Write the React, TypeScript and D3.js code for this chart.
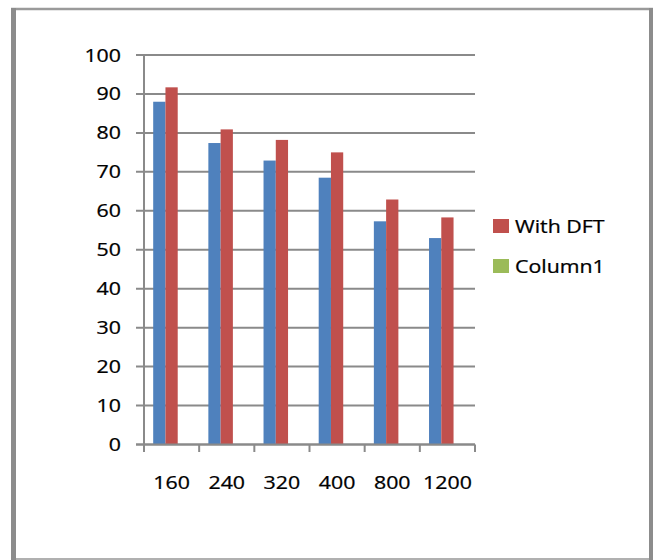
import React from "react";
import * as d3 from "d3";

const categories = ["160", "240", "320", "400", "800", "1200"];
const seriesNames = ["Series1", "With DFT", "Column1"];
const series1 = [88.0, 77.4, 72.9, 68.5, 57.3, 53.0];
const withDFT = [91.7, 80.9, 78.2, 75.0, 62.9, 58.3];
const column1: (number | null)[] = [null, null, null, null, null, null];
const yTicks = [0, 10, 20, 30, 40, 50, 60, 70, 80, 90, 100];
const colors = ["#4F81BD", "#C0504D", "#9BBB59"];

const W = 654;
const H = 560;
const plot = { left: 144, right: 475, top: 55, bottom: 444.5 };
const SX = 1.22;
const FS = 17.5;
const FONT = "'Open Sans', 'Noto Sans', sans-serif";

export default function App() {
  const y = d3.scaleLinear().domain([0, 100]).range([plot.bottom, plot.top]);
  const x = d3.scaleBand().domain(categories).range([plot.left, plot.right]).paddingInner(0).paddingOuter(0);
  const bw = x.bandwidth();
  const barW = bw / 4.5;
  const inner = d3.scaleBand().domain(seriesNames).range([0.75 * barW, 3.75 * barW]);

  const data = [series1, withDFT, column1];
  const gridColor = "#8a8a8a";
  const textColor = "#000";
  const textStyle = { stroke: "#000", strokeWidth: 0.25 };

  const tickXs = d3.range(categories.length + 1).map((i) => plot.left + i * bw);

  return (
    <svg width={W} height={H} style={{ position: "absolute", left: 0, top: 0, background: "#fff" }}>
      <rect x={0} y={0} width={W} height={H} fill="#fff" />
      {/* frame */}
      <line x1={11} x2={653} y1={9} y2={9} stroke="#9a9a9a" strokeWidth={2.5} />
      <line x1={11} x2={653} y1={559} y2={559} stroke="#b0b0b0" strokeWidth={2} />
      <line x1={13.5} x2={13.5} y1={8} y2={560} stroke="#8c8c8c" strokeWidth={5} />
      <line x1={651} x2={651} y1={8} y2={560} stroke="#8c8c8c" strokeWidth={4} />

      {/* gridlines + y ticks */}
      {yTicks.map((t) => (
        <g key={t}>
          <line x1={136} x2={plot.right} y1={y(t)} y2={y(t)} stroke={gridColor} strokeWidth={2} />
          <text
            transform={`translate(121,${y(t) + 6.5}) scale(${SX},1)`}
            textAnchor="end"
            fontFamily={FONT}
            fontSize={FS}
            fill={textColor}
            style={textStyle}
          >
            {t}
          </text>
        </g>
      ))}

      {/* bars */}
      {data.map((vals, si) =>
        vals.map((v, ci) =>
          v == null ? null : (
            <rect
              key={`${si}-${ci}`}
              x={(x(categories[ci]) as number) + (inner(seriesNames[si]) as number)}
              y={y(v)}
              width={inner.bandwidth()}
              height={y(0) - y(v)}
              fill={colors[si]}
            />
          )
        )
      )}

      {/* axes */}
      <line x1={plot.left} x2={plot.left} y1={plot.top} y2={plot.bottom} stroke={gridColor} strokeWidth={2} />
      <line x1={136} x2={plot.right} y1={plot.bottom} y2={plot.bottom} stroke={gridColor} strokeWidth={2} />
      {tickXs.map((tx, i) => (
        <line key={i} x1={tx} x2={tx} y1={plot.bottom} y2={452} stroke={gridColor} strokeWidth={2} />
      ))}
      {categories.map((c) => (
        <text
          key={c}
          transform={`translate(${(x(c) as number) + bw / 2},${489}) scale(${SX},1)`}
          textAnchor="middle"
          fontFamily={FONT}
          fontSize={FS}
          fill={textColor}
          style={textStyle}
        >
          {c}
        </text>
      ))}

      {/* legend */}
      {seriesNames.slice(1).map((name, i) => (
        <g key={name}>
          <rect x={493} y={219 + i * 40} width={16} height={14} fill={colors[i + 1]} />
          <text
            transform={`translate(515,${233 + i * 40}) scale(${SX},1)`}
            fontFamily={FONT}
            fontSize={FS}
            fill={textColor}
            style={textStyle}
          >
            {name}
          </text>
        </g>
      ))}
    </svg>
  );
}
